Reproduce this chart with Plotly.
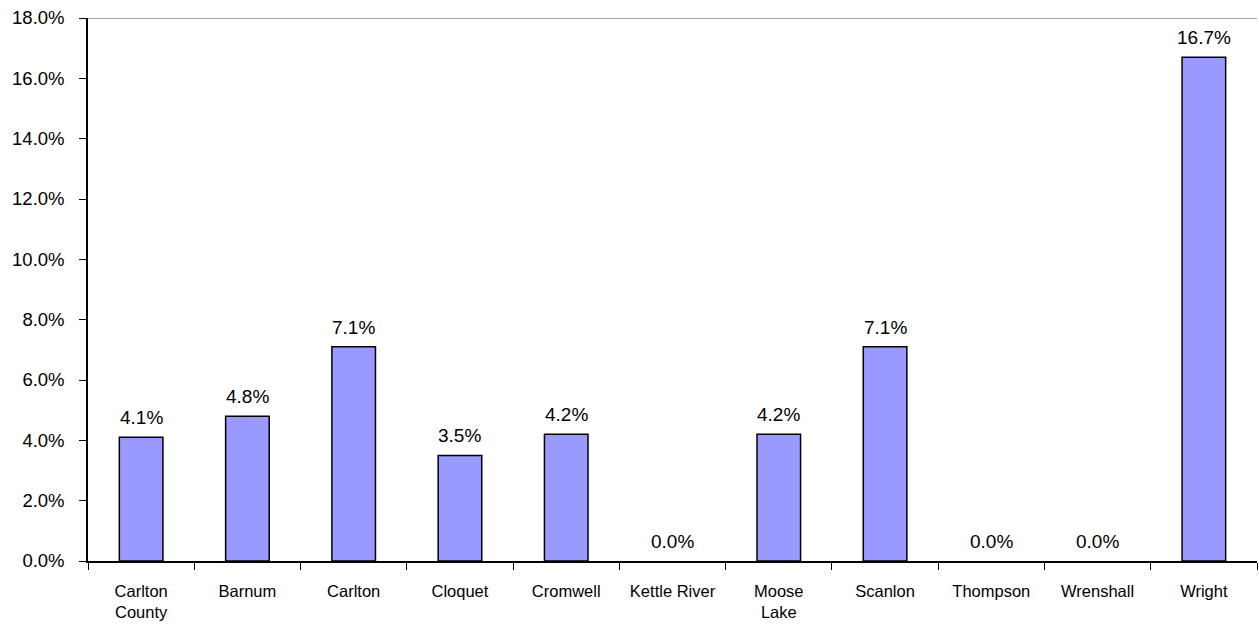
import plotly.graph_objects as go

categories = ["Carlton<br>County", "Barnum", "Carlton", "Cloquet", "Cromwell", "Kettle River",
              "Moose<br>Lake", "Scanlon", "Thompson", "Wrenshall", "Wright"]
values = [4.1, 4.8, 7.1, 3.5, 4.2, 0.0, 4.2, 7.1, 0.0, 0.0, 16.7]
labels = [f"{v:.1f}%" for v in values]
y_ticks = [0, 2, 4, 6, 8, 10, 12, 14, 16, 18]
y_ticktext = [f"{t:.1f}%" for t in y_ticks]

font_family = "Liberation Sans, Arial, sans-serif"

fig = go.Figure(go.Bar(
    x=categories, y=values,
    marker=dict(color="#9999FF",
                line=dict(color="black", width=[1.5 if v > 0 else 0 for v in values])),
))

for c, v, t in zip(categories, values, labels):
    fig.add_annotation(x=c, y=v, text=t, showarrow=False, yanchor="bottom", yshift=7,
                       font=dict(family=font_family, size=19, color="black"))

fig.update_layout(
    width=1259, height=629,
    margin=dict(l=88, r=2, t=18, b=68),
    plot_bgcolor="white", paper_bgcolor="white",
    bargap=0.59, showlegend=False,
    font=dict(family=font_family, size=16, color="black"),
    shapes=[dict(type="line", xref="paper", yref="y", x0=0, x1=1, y0=18, y1=18,
                 line=dict(color="#888888", width=1.5))],
)
fig.update_xaxes(
    showline=True, linecolor="black", linewidth=1.5,
    ticks="outside", tickson="boundaries", ticklen=7, tickcolor="black", tickwidth=1,
    tickfont=dict(family=font_family, size=16.5), showgrid=False,
    ticklabelstandoff=14,
)
fig.update_yaxes(
    range=[0, 18], tickvals=y_ticks, ticktext=y_ticktext,
    showline=True, linecolor="black", linewidth=1.5,
    ticks="outside", ticklen=7, tickcolor="black", tickwidth=1,
    tickfont=dict(family=font_family, size=18.5), showgrid=False, zeroline=False,
    ticklabelstandoff=11,
)

fig.write_html("out.html")
